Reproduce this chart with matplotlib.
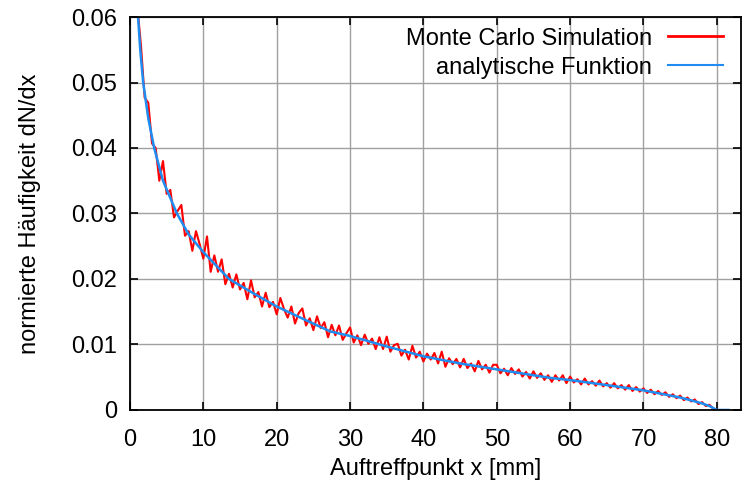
import numpy as np
import matplotlib
matplotlib.use("Agg")
import matplotlib.pyplot as plt

# analytic curve
ana_x = [0.9, 1.1, 1.4, 1.8, 2.5, 3.3, 4.5, 6.4, 8.0, 10.0, 13.5, 17.0, 20.0,
         24.0, 27.3, 30.0, 35.0, 40.0, 45.0, 50.0, 55.0, 57.3, 60.0, 65.0,
         70.0, 72.3, 75.0, 76.4, 78.0, 79.0, 80.0, 81.6]
ana_y = [0.0640, 0.0600, 0.0550, 0.0500, 0.0445, 0.0400, 0.0350, 0.0300,
         0.0268, 0.0241, 0.0200, 0.0177, 0.0158, 0.0137, 0.0120, 0.0113,
         0.0097, 0.0082, 0.0071, 0.0062, 0.0053, 0.0049, 0.00457, 0.0038,
         0.0030, 0.0025, 0.0019, 0.0015, 0.0010, 0.0006, 0.0, 0.0]

# Monte Carlo histogram, sampled every 0.5 mm from 1 to 80
mc_x = np.arange(1.0, 80.01, 0.5)
mc_y = [
    0.0617, 0.0556, 0.0477, 0.0469, 0.0407, 0.0400, 0.0350, 0.0380, 0.0330, 0.0336,
    0.0294, 0.0304, 0.0313, 0.0266, 0.0273, 0.0243, 0.0273, 0.0253, 0.0231, 0.0265,
    0.0211, 0.0236, 0.0211, 0.0230, 0.0192, 0.0208,
    0.0187, 0.0207, 0.0184, 0.0194, 0.0169, 0.0198, 0.0172, 0.0180, 0.0158, 0.0179,
    0.0157, 0.0165, 0.0146, 0.0171, 0.0154, 0.0141, 0.0158, 0.0132, 0.0148, 0.0155,
    0.0129, 0.0140, 0.0122, 0.0143, 0.0125, 0.0134, 0.0111, 0.0130, 0.0114, 0.0129,
    0.0107, 0.0117,
    0.0126, 0.0103, 0.0114, 0.0099, 0.0115, 0.0101, 0.0109, 0.0093, 0.0111, 0.0093,
    0.0112, 0.0089, 0.0099, 0.0101, 0.0083, 0.0092, 0.0077, 0.0098, 0.0080, 0.0089,
    0.0074, 0.0086, 0.0077, 0.0087, 0.0071, 0.0089, 0.0066, 0.0079, 0.0070, 0.0078,
    0.0065, 0.0078, 0.0064, 0.0071, 0.0059, 0.0075, 0.0062, 0.0069, 0.0057, 0.0069,
    0.0069, 0.0056, 0.0063, 0.0053, 0.0064, 0.0055, 0.0062, 0.0051, 0.0058, 0.0048,
    0.0059, 0.0049, 0.0056, 0.0046, 0.0053, 0.0043, 0.0053, 0.0045, 0.0053, 0.0041,
    0.0051, 0.0042, 0.0047, 0.0039, 0.0048, 0.0039, 0.0044, 0.0037, 0.0045, 0.0036,
    0.0041, 0.0034, 0.0041, 0.0033, 0.0038, 0.0031, 0.0038, 0.0029, 0.0035, 0.0028,
    0.0033, 0.0026, 0.0031, 0.0024, 0.0029, 0.0023, 0.0027, 0.0020, 0.0024, 0.0018,
    0.0022, 0.0015, 0.0019, 0.0013, 0.0016, 0.0009, 0.0012, 0.0006, 0.0008, 0.0002,
    0.0,
]

plt.rcParams.update(
    {
        "font.family": "Liberation Sans",
        "font.size": 17,
    }
)

fig = plt.figure(figsize=(7.44, 4.93), dpi=100)
ax = fig.add_axes([0.1747, 0.1684, 0.996 - 0.1747, 0.9655 - 0.1684])

ax.plot(mc_x, mc_y, color="#ff0000", lw=1.5, label="Monte Carlo Simulation")
ax.plot(ana_x, ana_y, color="#1e8cf0", lw=1.8, label="analytische Funktion")

ax.set_xlim(0, 83.3)
ax.set_ylim(0, 0.06)
ax.set_xticks(np.arange(0, 81, 10))
ax.set_yticks([0, 0.01, 0.02, 0.03, 0.04, 0.05, 0.06])
ax.set_yticklabels(["0", "0.01", "0.02", "0.03", "0.04", "0.05", "0.06"])
ax.grid(True, color="#a0a0a0", lw=1.0)
ax.set_axisbelow(True)
ax.tick_params(direction="in", length=6, width=1.2, top=True, right=True)
ax.tick_params(axis="x", pad=14)
ax.tick_params(axis="y", pad=9)
for s in ax.spines.values():
    s.set_linewidth(1.3)

ax.set_xlabel("Auftreffpunkt x [mm]", labelpad=5)
ax.set_ylabel("normierte Häufigkeit dN/dx", labelpad=22)

leg = ax.legend(loc="upper right", bbox_to_anchor=(0.988, 1.0), frameon=False,
                markerfirst=False, handlelength=2.35, handletextpad=0.65,
                labelspacing=0.3, borderaxespad=0.05)
leg.get_lines()[0].set_linewidth(2.0)
leg.get_lines()[1].set_linewidth(1.5)

plt.savefig("out.png", dpi=100)
